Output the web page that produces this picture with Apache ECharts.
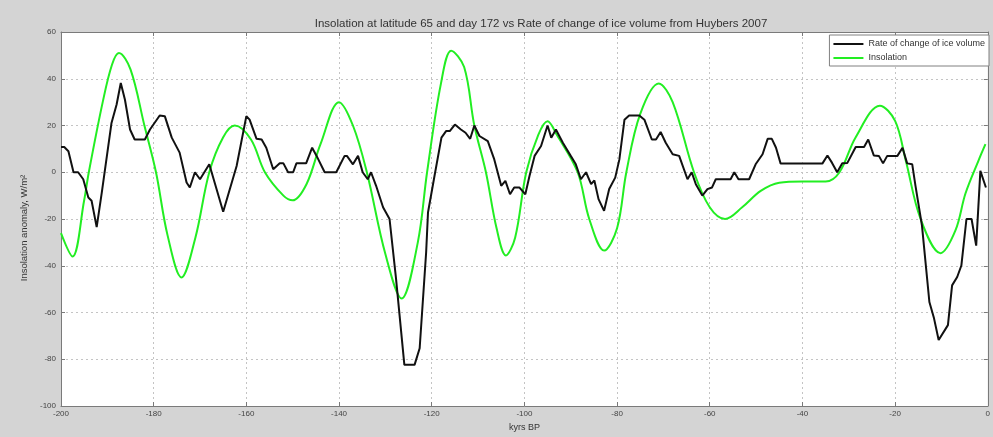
<!DOCTYPE html>
<html>
<head>
<meta charset="utf-8">
<script src="https://cdn.jsdelivr.net/npm/echarts@6/dist/echarts.min.js"></script>
<style>
html,body{margin:0;padding:0;background:#d4d4d4;}
#chart{width:993px;height:437px;}
</style>
</head>
<body>
<div id="chart"></div>
<script>
// Rate of change of ice volume (black)
const iceX = [-200,-199.3,-198.4,-197.3,-196.3,-195.2,-194.1,-193.4,-192.3,-191.2,-189.1,-188.0,-187.1,-186.2,-185.1,-184.1,-181.9,-180.8,-178.7,-177.6,-176.1,-174.4,-172.9,-172.2,-171.1,-170.0,-168.0,-165.0,-162.1,-160.0,-159.3,-157.8,-156.7,-155.7,-154.2,-152.8,-152.0,-151.0,-149.9,-149.2,-147.1,-145.8,-144.9,-143.1,-140.6,-138.8,-138.3,-137.0,-135.9,-134.9,-133.8,-133.1,-132.0,-130.5,-129.1,-127.7,-125.9,-123.7,-122.6,-121.2,-120.8,-119.4,-117.9,-116.9,-116.1,-115.0,-113.7,-112.7,-111.7,-110.8,-109.7,-107.9,-106.5,-105.0,-104.1,-103.1,-102.2,-101.1,-99.8,-98.9,-97.8,-96.4,-95.0,-94.2,-93.2,-91.7,-90.0,-88.9,-87.8,-86.7,-85.6,-84.9,-84.0,-82.8,-81.7,-80.4,-79.5,-78.4,-77.4,-75.2,-74.1,-72.5,-71.6,-70.6,-69.5,-68.0,-66.6,-64.8,-63.9,-63.0,-61.6,-60.5,-59.5,-58.7,-55.5,-54.7,-53.8,-51.5,-50.1,-48.6,-47.5,-46.6,-45.7,-44.7,-35.7,-34.6,-33.6,-32.5,-31.4,-30.3,-28.5,-26.7,-25.8,-24.6,-23.5,-22.6,-21.7,-19.5,-18.4,-17.4,-16.3,-15.6,-14.2,-12.6,-11.6,-10.6,-8.6,-7.7,-6.6,-5.7,-4.6,-3.5,-2.5,-1.6,-0.4];
const iceY = [10.8,10.8,9,0,0,-3,-10.8,-12.2,-23.5,-8.7,21.1,29,38.2,31,18.3,14,14,18.3,24.3,24,14.8,8.4,-4.4,-6.5,0,-3,3.4,-16.9,2.7,24,22.5,14.3,14,10.5,1.3,3.8,3.8,0,0,3.8,3.8,10.5,7.2,0,0,7,7,3.4,7,0,-3,0,-5.8,-15,-20,-45.5,-82.4,-82.4,-75.3,-34.2,-17.2,-1.6,14.8,17.6,17.6,20.4,18.3,16.9,14.3,20,15.5,13.3,5.5,-5.8,-3.7,-9.4,-6.5,-6.5,-9.4,-1.6,7,11.2,20,14.8,18.3,12.6,7,3.4,-3,0,-5.1,-3.5,-11.5,-16.5,-7.2,-2.3,5.5,22.5,24.3,24.3,22.5,14,14,17.2,12.6,7.7,7,-3,0,-5.1,-10,-7.2,-6.5,-3,-3,0,-3,-3,3.4,7.7,14.3,14.3,10.5,3.7,3.7,7.2,4,0,3.8,4,10.8,10.8,14,7.2,7,3.8,7,7,10.5,3.8,3.4,-5.8,-22.8,-55.5,-62.5,-71.8,-65.4,-48.4,-44.8,-39.9,-20,-20,-31.4,0.6,-6.5];

// Insolation (green)
const insX = [-200,-197.5,-195,-194,-191,-189,-187.5,-185,-182,-179.5,-177,-174,-171,-168,-165,-162.5,-159,-156,-152,-150,-147,-144,-140,-137,-134,-130,-126.5,-123,-121,-118,-115.8,-113,-110.8,-108.3,-106,-104,-102,-99.6,-97,-95,-93,-88.5,-86,-82.8,-80,-78,-75,-71,-68,-63.4,-60,-56.7,-53,-49,-45,-40,-35,-32,-28.5,-23.3,-20,-17.7,-14.5,-10.2,-7,-4.8,-2,-0.5];
const insY = [-26,-36,-12,0,30,46,51,44,20,0,-27,-45,-28,0,15,20,14,0,-10,-12,-5,12,30,20,0,-35,-54,-30,0,38,52,45,20,0,-24,-35.6,-28,0,16,21.8,16,0,-20,-33.5,-24,0,25,38,30,0,-15,-20,-15,-8,-4.5,-4,-4,0,15,28.5,22,5,-20,-34.6,-25,-9,5,12];

const xTicks = [-200,-180,-160,-140,-120,-100,-80,-60,-40,-20,0];
const yTicks = [-100,-80,-60,-40,-20,0,20,40,60];

const zip = (xs, ys) => xs.map((x, i) => [x, ys[i]]);
const FONT = 'Liberation Sans';
const chart = echarts.init(document.getElementById('chart'));
const axisCommon = {
  type: 'value',
  axisLine: {show: true, onZero: false, lineStyle: {color: '#7a7a7a', width: 1}},
  axisTick: {show: true, inside: true, length: 4, lineStyle: {color: '#7a7a7a'}},
};
chart.setOption({
  backgroundColor: '#d4d4d4',
  animation: false,
  title: {
    text: 'Insolation at latitude 65 and day 172 vs Rate of change of ice volume from Huybers 2007',
    left: 536, top: 13, textAlign: 'center',
    textStyle: {fontFamily: FONT, fontSize: 11.5, fontWeight: 'normal', color: '#333'}
  },
  legend: {
    orient: 'vertical', right: 4, top: 35,
    backgroundColor: '#ffffff', borderColor: '#808080', borderWidth: 1,
    padding: [4, 4, 3, 4], itemGap: 4, itemWidth: 30, itemHeight: 2,
    textStyle: {fontFamily: FONT, fontSize: 9, color: '#333', lineHeight: 10},
    data: [
      {name: 'Rate of change of ice volume', icon: 'rect'},
      {name: 'Insolation', icon: 'rect'}
    ]
  },
  grid: {left: 61, right: 4, top: 32, bottom: 29, show: true, backgroundColor: '#ffffff', borderWidth: 0},
  xAxis: [
    Object.assign({}, axisCommon, {
      min: xTicks[0], max: xTicks[xTicks.length - 1], interval: 20, position: 'bottom',
      name: 'kyrs BP', nameLocation: 'middle', nameGap: 17,
      nameTextStyle: {fontFamily: FONT, fontSize: 9, color: '#333'},
      axisLabel: {fontFamily: FONT, fontSize: 8, color: '#444', margin: 4},
      splitLine: {show: true, lineStyle: {color: '#c4c4c4', type: [2, 3], width: 1}}
    }),
    Object.assign({}, axisCommon, {
      min: xTicks[0], max: xTicks[xTicks.length - 1], interval: 20, position: 'top',
      axisLabel: {show: false}, splitLine: {show: false}
    })
  ],
  yAxis: [
    Object.assign({}, axisCommon, {
      min: yTicks[0], max: yTicks[yTicks.length - 1], interval: 20, position: 'left',
      name: 'Insolation anomaly, W/m²', nameLocation: 'middle', nameGap: 27,
      nameTextStyle: {fontFamily: FONT, fontSize: 9.5, color: '#333', padding: [0, 18, 0, 0]},
      axisLabel: {fontFamily: FONT, fontSize: 8, color: '#444', margin: 5},
      splitLine: {show: true, lineStyle: {color: '#c4c4c4', type: [2, 3], width: 1}}
    }),
    Object.assign({}, axisCommon, {
      min: yTicks[0], max: yTicks[yTicks.length - 1], interval: 20, position: 'right',
      axisLabel: {show: false}, splitLine: {show: false}
    })
  ],
  series: [
    {
      name: 'Rate of change of ice volume', type: 'line', data: zip(iceX, iceY),
      symbol: 'none', lineStyle: {color: '#111111', width: 2}, itemStyle: {color: '#111111'}, z: 3
    },
    {
      name: 'Insolation', type: 'line', data: zip(insX, insY), smooth: 0.35,
      symbol: 'none', lineStyle: {color: '#22ee22', width: 2}, itemStyle: {color: '#22ee22'}, z: 2
    }
  ]
});
</script>
</body>
</html>
